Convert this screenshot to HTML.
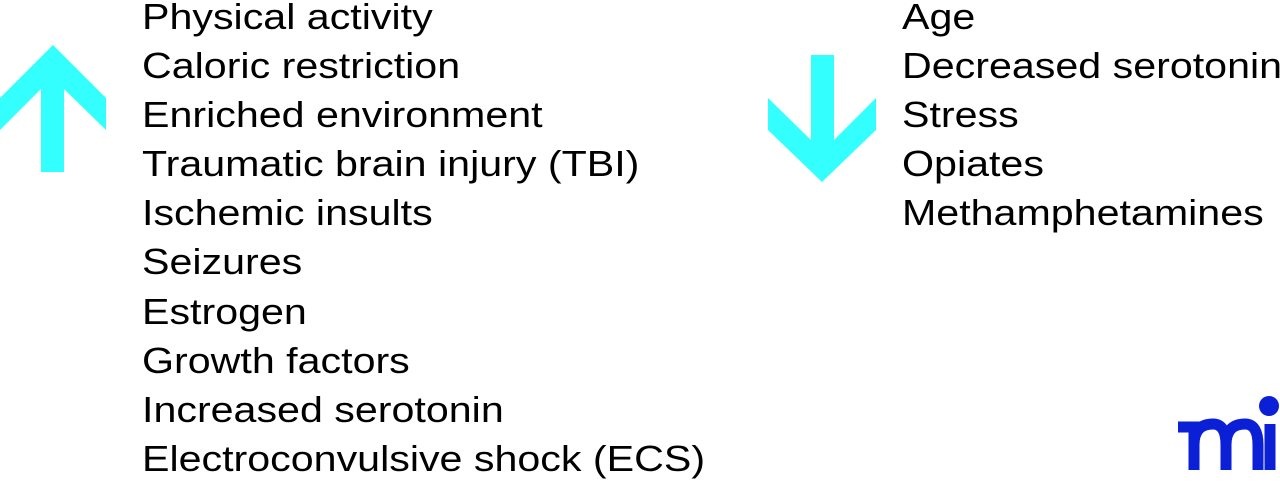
<!DOCTYPE html>
<html><head><meta charset="utf-8"><style>
html,body{margin:0;padding:0;background:#fff;width:1280px;height:482px;overflow:hidden;position:relative}
.col{position:absolute;font-family:"Liberation Sans",Arial,sans-serif;font-size:36px;line-height:49.1px;color:#000;white-space:nowrap;transform:scaleX(1.144);transform-origin:0 0}
</style></head><body>
<svg width="1280" height="482" style="position:absolute;left:0;top:0">
<polygon fill="#33ffff" points="53,45 106,98 106,130 64,89 64,172 41,172 41,89 0,130 0,98"/>
<polygon fill="#33ffff" points="811,55 834,55 834,140 876,98 876,130 822,182 768,130 768,98 811,140"/>
<g fill="none" stroke="#0a1fd6" stroke-width="11">
<path d="M1178,427 H1194 V470"/>
<path d="M1194,445 Q1194,424 1213,424 Q1226,424 1226,445 V470"/>
<path d="M1226,445 Q1226,424 1245,424 Q1258,424 1258,445 V470"/>
<path d="M1270,424 V470"/>
</g>
<circle cx="1269" cy="406" r="10" fill="#0a1fd6"/>
</svg>
<div class="col" style="left:142px;top:-8px">Physical activity<br>Caloric restriction<br>Enriched environment<br>Traumatic brain injury (TBI)<br>Ischemic insults<br>Seizures<br>Estrogen<br>Growth factors<br>Increased serotonin<br>Electroconvulsive shock (ECS)</div>
<div class="col" style="left:902px;top:-8px">Age<br>Decreased serotonin<br>Stress<br>Opiates<br>Methamphetamines</div>
</body></html>
